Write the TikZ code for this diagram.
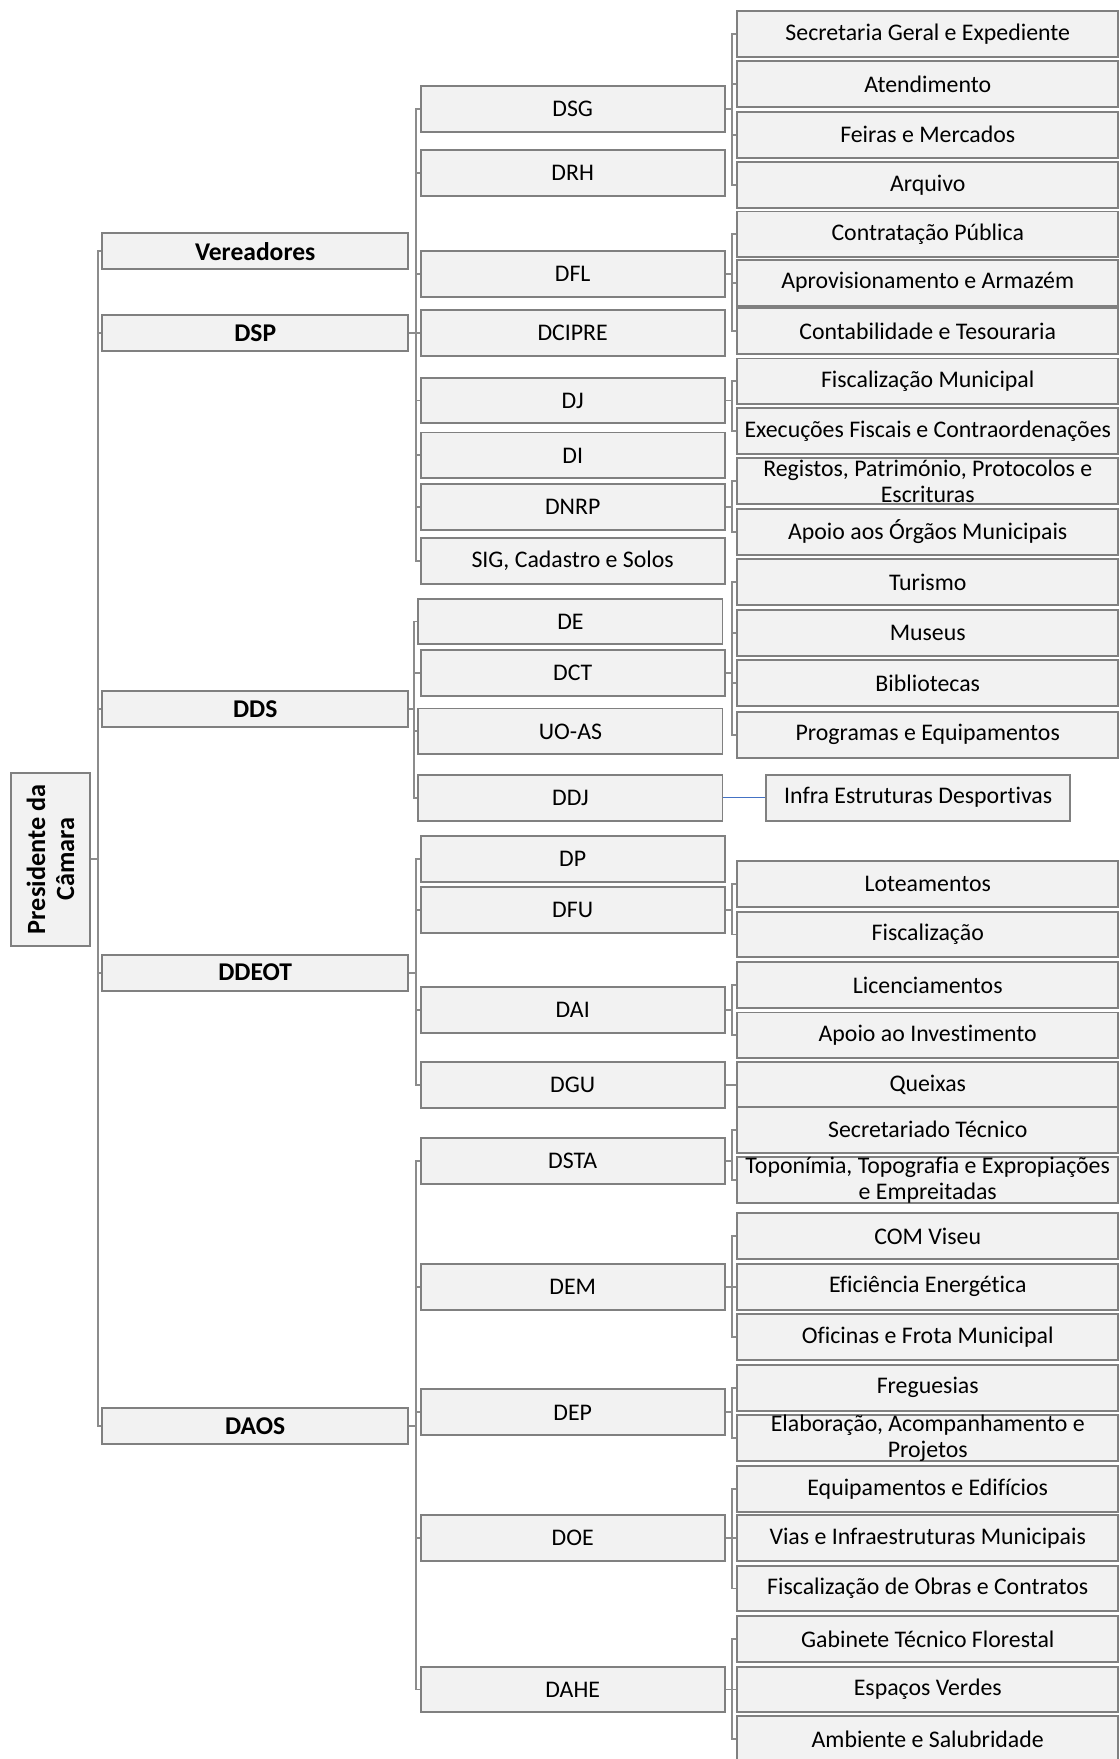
\documentclass[tikz,border=0pt]{standalone}
\usepackage{fontspec}
\setmainfont{Carlito}[Ligatures={NoCommon}]
\usetikzlibrary{positioning}
\definecolor{boxfill}{RGB}{242, 242, 242}
\definecolor{boxline}{RGB}{128, 128, 128}
\definecolor{linkgray}{RGB}{140, 140, 140}
\definecolor{linkblue}{RGB}{68, 114, 196}

\begin{document}
\begin{tikzpicture}[x=0.0225cm, y=-0.0225cm, font=\fontsize{13.6}{14.7}\selectfont,
  unitbox/.style={draw=boxline, fill=boxfill, line width=1.1pt, inner sep=0pt, align=center},
  toplevel/.style={unitbox, minimum width=6.14cm, minimum height=0.72cm, font=\fontsize{14.6}{15.5}\selectfont\bfseries},
  division/.style={unitbox, minimum width=6.1cm, minimum height=0.92cm},
  section/.style={unitbox, minimum width=7.65cm, minimum height=0.92cm},
  link/.style={draw=linkgray, line width=1.1pt},
  bluelink/.style={draw=linkblue, line width=0.6pt}]
  \useasboundingbox (0,0) rectangle (998,1568);

  % presidente
  \node[unitbox, rotate=90, minimum width=3.46cm, minimum height=1.57cm, font=\fontsize{15}{16.5}\selectfont\bfseries] (pres) at (45,766) {Presidente da\\Câmara};

  % first level
  \node[toplevel] (vere) at (227.5,224) {Vereadores};
  \node[toplevel] (dsp) at (227.5,297) {DSP};
  \node[toplevel] (dds) at (227.5,632) {DDS};
  \node[toplevel] (ddeot) at (227.5,867) {DDEOT};
  \node[toplevel] (daos) at (227.5,1271) {DAOS};

  % divisions
  \node[division] (dsg) at (510.5,97) {DSG};
  \node[division] (drh) at (510.5,154) {DRH};
  \node[division] (dfl) at (510.5,244) {DFL};
  \node[division] (dcipre) at (510.5,297) {DCIPRE};
  \node[division] (dj) at (510.5,357) {DJ};
  \node[division] (di) at (510.5,406) {DI};
  \node[division] (dnrp) at (510.5,452) {DNRP};
  \node[division] (sig) at (510.5,500) {SIG, Cadastro e Solos};
  \node[division] (de) at (508.5,554) {DE};
  \node[division] (dct) at (510.5,600) {DCT};
  \node[division] (uoas) at (508.5,652) {UO-AS};
  \node[division] (ddj) at (508.5,711) {DDJ};
  \node[division] (dp) at (510.5,766) {DP};
  \node[division] (dfu) at (510.5,811) {DFU};
  \node[division] (dai) at (510.5,900) {DAI};
  \node[division] (dgu) at (510.5,967) {DGU};
  \node[division] (dsta) at (510.5,1035) {DSTA};
  \node[division] (dem) at (510.5,1147) {DEM};
  \node[division] (dep) at (510.5,1259) {DEP};
  \node[division] (doe) at (510.5,1371) {DOE};
  \node[division] (dahe) at (510.5,1506) {DAHE};

  % sections
  \node[section] (sge) at (827,30) {Secretaria Geral e Expediente};
  \node[section] (atend) at (827,75) {Atendimento};
  \node[section] (feiras) at (827,120) {Feiras e Mercados};
  \node[section] (arquivo) at (827,165) {Arquivo};
  \node[section] (contrat) at (827,209) {Contratação Pública};
  \node[section] (aprov) at (827,252) {Aprovisionamento e Armazém};
  \node[section] (contab) at (827,295) {Contabilidade e Tesouraria};
  \node[section] (fiscmun) at (827,340) {Fiscalização Municipal};
  \node[section] (execfisc) at (827,384) {Execuções Fiscais e Contraordenações};
  \node[section] (registos) at (827,429) {Registos, Património, Protocolos e\\Escrituras};
  \node[section] (apoioorg) at (827,474) {Apoio aos Órgãos Municipais};
  \node[section] (turismo) at (827,519) {Turismo};
  \node[section] (museus) at (827,564) {Museus};
  \node[section] (bibl) at (827,609) {Bibliotecas};
  \node[section] (programas) at (827,655) {Programas e Equipamentos};
  \node[unitbox, minimum width=6.1cm, minimum height=0.92cm] (infra) at (818.5,711) {Infra Estruturas Desportivas};
  \node[section] (lotea) at (827,788) {Loteamentos};
  \node[section] (fiscal) at (827,833) {Fiscalização};
  \node[section] (licenc) at (827,878) {Licenciamentos};
  \node[section] (apoioinv) at (827,923) {Apoio ao Investimento};
  \node[section] (queixas) at (827,967) {Queixas};
  \node[section] (secrtec) at (827,1007) {Secretariado Técnico};
  \node[section] (topon) at (827,1052) {Toponímia, Topografia e Expropiações\\e Empreitadas};
  \node[section] (comviseu) at (827,1102) {COM Viseu};
  \node[section] (eficien) at (827,1147) {Eficiência Energética};
  \node[section] (oficinas) at (827,1192) {Oficinas e Frota Municipal};
  \node[section] (freg) at (827,1237) {Freguesias};
  \node[section] (elab) at (827,1282) {Elaboração, Acompanhamento e\\Projetos};
  \node[section] (equip) at (827,1327) {Equipamentos e Edifícios};
  \node[section] (vias) at (827,1371) {Vias e Infraestruturas Municipais};
  \node[section] (fiscobras) at (827,1416) {Fiscalização de Obras e Contratos};
  \node[section] (gabflor) at (827,1461) {Gabinete Técnico Florestal};
  \node[section] (espacos) at (827,1506) {Espaços Verdes};
  \node[section] (ambiente) at (827,1550) {Ambiente e Salubridade};

  % connectors
  \foreach \c in {vere,dsp,dds,ddeot,daos}
    \draw[link] (pres.south) -- ++(7,0) |- (\c.west);
  \foreach \c in {dsg,drh,dfl,dcipre,dj,di,dnrp,sig}
    \draw[link] (dsp.east) -- ++(6,0) |- (\c.west);
  \foreach \c in {de,dct,uoas,ddj}
    \draw[link] (dds.east) -- ++(4,0) |- (\c.west);
  \foreach \c in {dp,dfu,dai,dgu}
    \draw[link] (ddeot.east) -- ++(6,0) |- (\c.west);
  \foreach \c in {dsta,dem,dep,doe,dahe}
    \draw[link] (daos.east) -- ++(6,0) |- (\c.west);
  \foreach \p/\c in {dsg/sge,dsg/atend,dsg/feiras,dsg/arquivo,dfl/contrat,dfl/aprov,dfl/contab,
      dj/fiscmun,dj/execfisc,dnrp/registos,dnrp/apoioorg,dct/turismo,dct/museus,dct/bibl,dct/programas,
      dfu/lotea,dfu/fiscal,dai/licenc,dai/apoioinv,dgu/queixas,dsta/secrtec,dsta/topon,
      dem/comviseu,dem/eficien,dem/oficinas,dep/freg,dep/elab,doe/equip,doe/vias,doe/fiscobras,
      dahe/gabflor,dahe/espacos,dahe/ambiente}
    \draw[link] (\p.east) -- ++(6,0) |- (\c.west);
  \draw[bluelink] (ddj.east) -- (infra.west);
\end{tikzpicture}
\end{document}
